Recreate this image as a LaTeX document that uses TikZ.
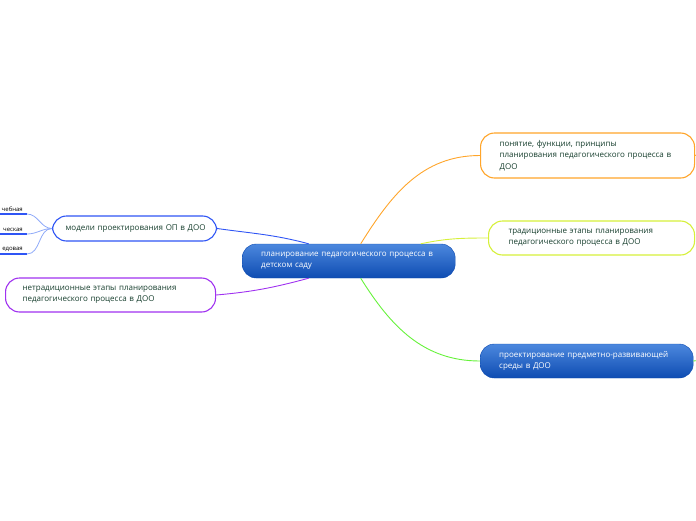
\documentclass[tikz,border=0pt]{standalone}
\usepackage{fontspec}
\setmainfont{Open Sans}
\usepackage{xcolor}
\usetikzlibrary{calc}
\definecolor{txtgreen}{HTML}{173F2E}
\definecolor{cOrange}{HTML}{FFA52A}
\definecolor{cLime}{HTML}{D6F03A}
\definecolor{cGreen}{HTML}{66F23A}
\definecolor{cPurple}{HTML}{A032F0}
\definecolor{cBlue}{HTML}{2F55F5}
\definecolor{cTwig}{HTML}{8FAAF8}
\definecolor{glossTop}{HTML}{4C88DE}
\definecolor{glossBot}{HTML}{0E4CB2}

\begin{document}
\begin{tikzpicture}[x=1pt,y=1pt,
  font=\fontsize{8}{11.5}\selectfont,
  gloss/.style={rounded corners=14pt,top color=glossTop,bottom color=glossBot,
    draw=glossBot,thin,text=white,align=left,inner xsep=19pt,
    minimum height=34pt},
  topic/.style={rounded corners=14pt,draw=#1,line width=1.1pt,fill=white,
    text=txtgreen,align=left,minimum height=34pt},
  leaf/.style={font=\fontsize{6}{7}\selectfont,inner xsep=4pt,inner ysep=2pt,
    anchor=south east},
  link/.style={line width=0.9pt},
  twig/.style={draw=cTwig,line width=0.8pt}]
\useasboundingbox (0,0) rectangle (696,-520);
% centre
\node[gloss,anchor=west,minimum width=213pt,text width=175pt]
  (root) at (242,-261) {планирование педагогического процесса в\\детском саду};
% right side
\node[topic=cOrange,anchor=west,minimum width=214pt,minimum height=45pt,
  inner xsep=19pt,text width=176pt]
  (conc) at (480,-155.5) {понятие, функции, принципы\\планирования педагогического процесса в\\ДОО};
\node[topic=cLime,anchor=west,minimum width=206pt,inner xsep=20pt,text width=166pt]
  (trad) at (488,-238) {традиционные этапы планирования\\педагогического процесса в ДОО};
\node[gloss,anchor=west,minimum width=213pt,text width=175pt]
  (envr) at (480,-361) {проектирование предметно-развивающей\\среды в ДОО};
% left side
\node[topic=cBlue,anchor=west,minimum width=164pt,minimum height=25pt,
  inner xsep=13pt,text width=138pt]
  (mdl) at (52,-228.5) {\mbox{модели проектирования ОП в ДОО}};
\node[topic=cPurple,anchor=west,minimum width=210pt,inner xsep=17pt,text width=176pt]
  (ntrd) at (5,-295) {нетрадиционные этапы планирования\\педагогического процесса в ДОО};
% leaves of the model node
\node[leaf] (lf1) at (27,-214) {чебная};
\node[leaf] (lf2) at (27,-234) {ческая};
\node[leaf] (lf3) at (27,-254) {едовая};
\foreach \l in {lf1,lf2,lf3}{
  \draw[cBlue,line width=1.6pt] (\l.south west) -- (\l.south east);
  \draw[twig] (mdl.west) to[out=180,in=0] (\l.south east);
}
% branches
\draw[link,cOrange] ([xshift=12pt]root.north) to[out=58,in=180] (conc.west);
\draw[link,cLime] ([xshift=72pt]root.north) to[out=12,in=180] (trad.west);
\draw[link,cGreen] ([xshift=12pt]root.south) to[out=-58,in=180] (envr.west);
\draw[link,cBlue] ([xshift=-40pt]root.north) to[out=165,in=-8] (mdl.east);
\draw[link,cPurple] ([xshift=-40pt]root.south) to[out=195,in=5] (ntrd.east);
% stubs off the right edge
\coordinate (st1) at (702,-152);
\coordinate (st2) at (702,-360);
\draw[link,cOrange] (conc.east) -- (st1);
\draw[link,cGreen] (envr.east) -- (st2);
\end{tikzpicture}
\end{document}
